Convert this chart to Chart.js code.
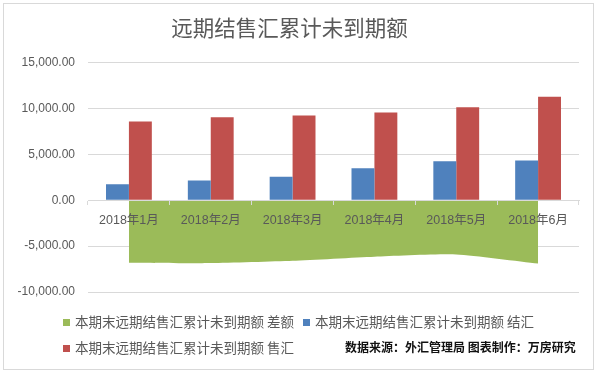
<!DOCTYPE html>
<html>
<head>
<meta charset="utf-8">
<script src="https://cdn.jsdelivr.net/npm/chart.js@4/dist/chart.umd.min.js"></script>
<style>
  html, body { margin: 0; padding: 0; background: #fff; }
  #wrap { position: relative; width: 600px; height: 373px; overflow: hidden; }
  #frame { position: absolute; left: 3px; top: 3px; width: 589px; height: 365px; border: 1px solid #d9d9d9; pointer-events: none; }
  canvas { position: absolute; left: 0; top: 0; }
  .lg { position: absolute; font-family: "Noto Sans CJK SC", sans-serif; font-size: 13.5px; color: #595959; white-space: nowrap; line-height: 16px; }
  .sq { display: inline-block; width: 7px; height: 7px; margin-right: 5px; vertical-align: 1px; }
  #src { position: absolute; font-family: "Noto Sans CJK SC", sans-serif; font-size: 12px; font-weight: bold; color: #111; white-space: nowrap; line-height: 16px; }
</style>
</head>
<body>
<div id="wrap">
  <canvas id="c" width="600" height="373"></canvas>
  <div id="frame"></div>
  <div id="legend"></div>
  <div id="src" style="left:345px; top:339px;">数据来源：外汇管理局 图表制作：万房研究</div>
</div>
<script>
const title = '远期结售汇累计未到期额';
const categories = ['2018年1月', '2018年2月', '2018年3月', '2018年4月', '2018年5月', '2018年6月'];
const seriesNames = ['本期末远期结售汇累计未到期额 差额', '本期末远期结售汇累计未到期额 结汇', '本期末远期结售汇累计未到期额 售汇'];
const diffValues = [-6800, -6850, -6600, -6150, -5900, -6900];
const settleValues = [1750, 2170, 2580, 3510, 4270, 4350];
const saleValues = [8600, 9050, 9240, 9570, 10140, 11300];
const yTicks = [-10000, -5000, 0, 5000, 10000, 15000];
const colors = ['#9BBB59', '#4F81BD', '#C0504D'];

const fmt = v => v.toLocaleString('en-US', { minimumFractionDigits: 2, maximumFractionDigits: 2 });

const chart = new Chart(document.getElementById('c'), {
  type: 'bar',
  data: {
    labels: categories,
    datasets: [
      { type: 'line', label: seriesNames[0], data: diffValues, fill: 'origin', backgroundColor: colors[0],
        borderWidth: 0, borderColor: colors[0], pointRadius: 0, tension: 0.2, order: 0 },
      { label: seriesNames[1], data: settleValues, backgroundColor: colors[1], order: 1,
        barPercentage: 1, categoryPercentage: 0.56 },
      { label: seriesNames[2], data: saleValues, backgroundColor: colors[2], order: 1,
        barPercentage: 1, categoryPercentage: 0.56 }
    ]
  },
  options: {
    responsive: false,
    animation: false,
    devicePixelRatio: 1,
    layout: { padding: { left: 0, right: 21, top: 0, bottom: 81 } },
    plugins: {
      legend: { display: false },
      tooltip: { enabled: false },
      title: {
        display: true, text: title, color: '#595959',
        font: { family: '"Noto Sans CJK SC", sans-serif', size: 21.5, weight: 'normal' },
        padding: { top: 15, bottom: 22 }
      }
    },
    scales: {
      x: {
        position: { y: 0 },
        offset: true,
        grid: { display: true, drawOnChartArea: false, drawTicks: true, tickLength: 4, color: '#d9d9d9', offset: true, z: 1 },
        border: { display: true, color: '#d9d9d9', z: 1 },
        ticks: { color: '#595959', padding: 9, maxRotation: 0, z: 1,
          font: { family: '"Liberation Sans", "Noto Sans CJK SC", sans-serif', size: 12.5 } }
      },
      y: {
        min: yTicks[0], max: yTicks[yTicks.length - 1],
        afterBuildTicks: s => { s.ticks = yTicks.map(v => ({ value: v })); },
        afterFit: s => { s.width = 88; },
        grid: { color: '#d9d9d9', drawTicks: false },
        border: { display: false },
        ticks: { color: '#595959', padding: 13, callback: v => fmt(v),
          font: { family: '"Liberation Sans", sans-serif', size: 12 } }
      }
    }
  }
});

// HTML legend built from the chart's datasets
const legendPos = [[63, 313], [303, 313], [63, 339]];
const legend = document.getElementById('legend');
chart.data.datasets.forEach((ds, i) => {
  const d = document.createElement('div');
  d.className = 'lg';
  d.style.left = legendPos[i][0] + 'px';
  d.style.top = legendPos[i][1] + 'px';
  const sq = document.createElement('span');
  sq.className = 'sq';
  sq.style.background = ds.backgroundColor;
  d.appendChild(sq);
  d.appendChild(document.createTextNode(ds.label));
  legend.appendChild(d);
});
</script>
</body>
</html>
